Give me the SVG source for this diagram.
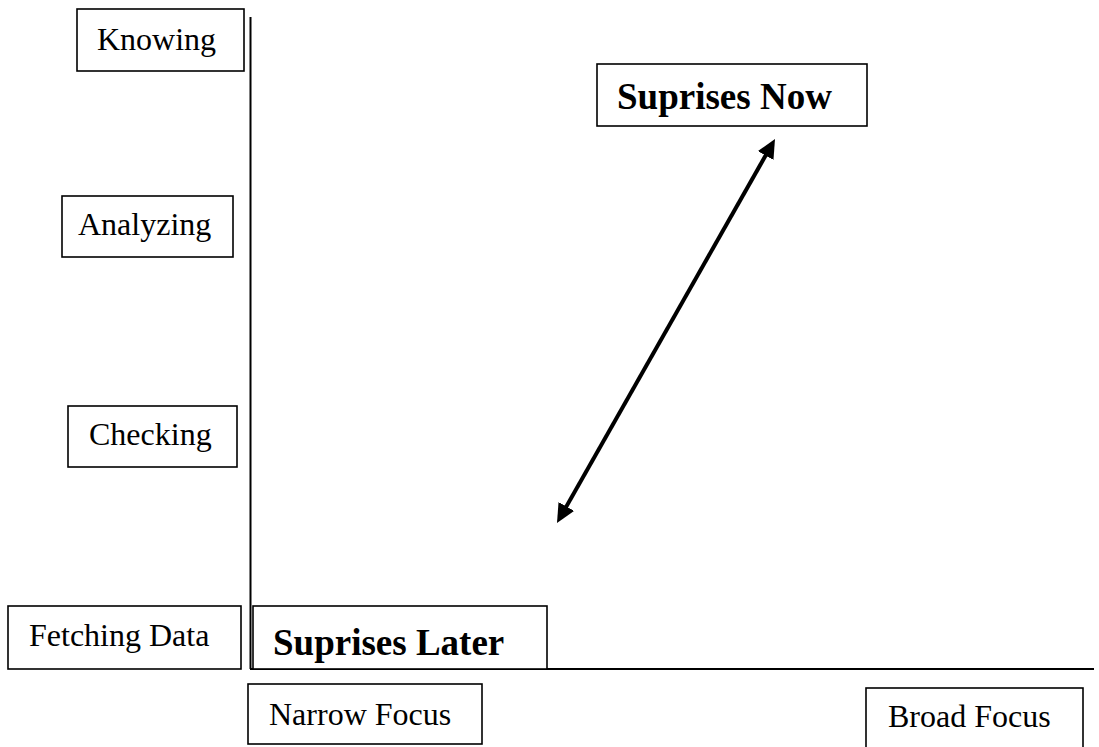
<svg xmlns="http://www.w3.org/2000/svg" width="1099" height="747" viewBox="0 0 1099 747">
<style>
.box{fill:#fff;stroke:#000;stroke-width:1.6}
.t{font-family:"Liberation Serif","Times New Roman",serif;font-size:32px;fill:#000}
.b{font-family:"Liberation Serif","Times New Roman",serif;font-size:37px;font-weight:bold;fill:#000}
.axis{stroke:#000;stroke-width:2;fill:none}
</style>
<defs>
<marker id="ah" markerUnits="userSpaceOnUse" markerWidth="20" markerHeight="18" viewBox="0 0 20 18" refX="10" refY="9" orient="auto-start-reverse">
<path d="M0,0 L19,9 L0,18 z" fill="#000"/>
</marker>
</defs>
<g id="connectors">
<line class="axis" x1="250.5" y1="17" x2="250.5" y2="669"/>
<line class="axis" x1="250" y1="669" x2="1094" y2="669"/>
<line x1="770.56" y1="146.83" x2="561.44" y2="515.17" stroke="#000" stroke-width="4" marker-start="url(#ah)" marker-end="url(#ah)"/>
</g>
<g id="knowing"><rect class="box" x="77" y="9" width="167" height="62"/><text class="t" x="97" y="50">Knowing</text></g>
<g id="analyzing"><rect class="box" x="62" y="196" width="171" height="61"/><text class="t" x="78" y="235">Analyzing</text></g>
<g id="checking"><rect class="box" x="68" y="406" width="169" height="61"/><text class="t" x="89" y="445">Checking</text></g>
<g id="fetching"><rect class="box" x="8" y="606" width="233" height="63"/><text class="t" x="29" y="646">Fetching Data</text></g>
<g id="suprises-later"><rect class="box" x="253" y="606" width="294" height="63"/><text class="b" x="273" y="655">Suprises Later</text></g>
<g id="suprises-now"><rect class="box" x="597" y="64" width="270" height="62"/><text class="b" x="617" y="109">Suprises Now</text></g>
<g id="narrow-focus"><rect class="box" x="248" y="684" width="234" height="60"/><text class="t" x="269" y="725">Narrow Focus</text></g>
<g id="broad-focus"><rect class="box" x="866" y="688" width="217" height="62"/><text class="t" x="888" y="727">Broad Focus</text></g>
</svg>
